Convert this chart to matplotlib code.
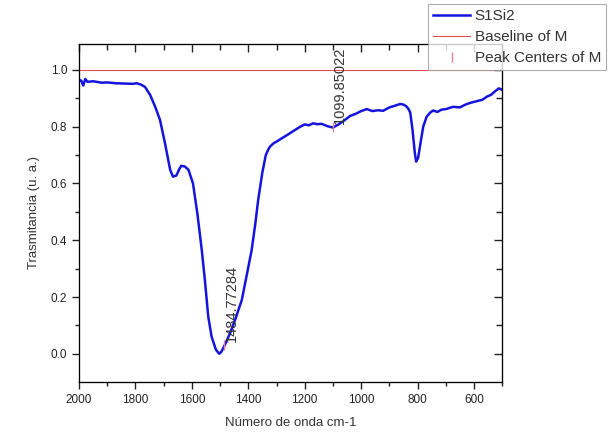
import matplotlib
matplotlib.use("Agg")
import matplotlib.pyplot as plt
from matplotlib.ticker import MultipleLocator, FormatStrFormatter

plt.rcParams['font.family'] = ['Liberation Sans', 'DejaVu Sans']

# espectro IR
wavenumber = [2000, 1992, 1985, 1978, 1970, 1950, 1920, 1900, 1870, 1840, 1810, 1795,
              1780, 1766, 1748, 1730, 1713, 1695, 1677, 1667, 1655, 1645, 1638, 1625,
              1612, 1596, 1580, 1565, 1553, 1542, 1530, 1515, 1503, 1495, 1484, 1464,
              1445, 1423, 1405, 1388, 1375, 1365, 1350, 1338, 1330, 1323, 1310, 1299,
              1280, 1260, 1240, 1216, 1200, 1185, 1170, 1157, 1140, 1120, 1100, 1080,
              1060, 1039, 1020, 1000, 980, 960, 940, 922, 900, 880, 862, 850, 840,
              832, 826, 818, 810, 805, 798, 790, 780, 768, 755, 745, 730, 715, 700,
              674, 650, 630, 613, 590, 570, 554, 540, 525, 512, 500]
transmittance = [0.965, 0.962, 0.945, 0.968, 0.958, 0.960, 0.955, 0.956, 0.953, 0.952, 0.951, 0.953,
                 0.948, 0.940, 0.912, 0.870, 0.824, 0.740, 0.648, 0.624, 0.628, 0.650, 0.662, 0.660,
                 0.648, 0.600, 0.490, 0.366, 0.250, 0.131, 0.060, 0.015, 0.000, 0.008, 0.030, 0.074,
                 0.125, 0.190, 0.280, 0.366, 0.460, 0.542, 0.640, 0.700, 0.718, 0.730, 0.742, 0.748,
                 0.760, 0.772, 0.785, 0.800, 0.808, 0.805, 0.812, 0.809, 0.810, 0.802, 0.797, 0.808,
                 0.822, 0.838, 0.845, 0.855, 0.862, 0.855, 0.858, 0.856, 0.868, 0.874, 0.880, 0.878,
                 0.872, 0.862, 0.850, 0.790, 0.710, 0.677, 0.690, 0.740, 0.800, 0.835, 0.850, 0.857,
                 0.852, 0.860, 0.862, 0.870, 0.868, 0.878, 0.884, 0.890, 0.895, 0.906, 0.912, 0.925,
                 0.935, 0.930]

baseline = 1.0
peak_centers = [1484.77284, 1099.85022]
peak_values = [0.03, 0.80]

fig = plt.figure(figsize=(6.08, 4.38), dpi=100)
ax = fig.add_axes([0.13, 0.128, 0.696, 0.772])

line, = ax.plot(wavenumber, transmittance, color='#1414dc', lw=1.8, label='S1Si2')
base = ax.axhline(baseline, color='#e05050', lw=0.8, label='Baseline of M')
pk, = ax.plot(peak_centers, peak_values, ls='none', marker='|', ms=7, mew=1,
              color='#e080a0', label='Peak Centers of M')

for xc, yc in zip(peak_centers, peak_values):
    ax.text(xc, yc + 0.01, f"{xc:.5f}", rotation=90, ha='left', va='bottom',
            fontsize=10.5, color='#333333', clip_on=False, zorder=5)

xlim = (2000, 500)
ylim = (-0.099, 1.092)
ax.set_xlim(*xlim)
ax.set_ylim(*ylim)
ax.xaxis.set_major_locator(MultipleLocator(200))
ax.xaxis.set_minor_locator(MultipleLocator(100))
ax.yaxis.set_major_locator(MultipleLocator(0.2))
ax.yaxis.set_minor_locator(MultipleLocator(0.1))
ax.yaxis.set_major_formatter(FormatStrFormatter('%.1f'))
ax.tick_params(which='both', direction='out', labelsize=8.5, colors='#222222', width=1)
ax.tick_params(which='major', length=5)
ax.tick_params(which='minor', length=3)

# ejes espejo con marcas hacia dentro
tx = ax.twiny()
tx.set_xlim(*xlim)
tx.xaxis.set_major_locator(MultipleLocator(200))
tx.xaxis.set_minor_locator(MultipleLocator(100))
tx.tick_params(which='both', direction='in', labeltop=False, colors='#222222', width=1)
tx.tick_params(which='major', length=6)
tx.tick_params(which='minor', length=4)
ty = ax.twinx()
ty.set_ylim(*ylim)
ty.yaxis.set_major_locator(MultipleLocator(0.2))
ty.yaxis.set_minor_locator(MultipleLocator(0.1))
ty.tick_params(which='both', direction='in', labelright=False, colors='#222222', width=1)
ty.tick_params(which='major', length=6)
ty.tick_params(which='minor', length=4)

ax.set_xlabel('Número de onda cm-1', fontsize=9.5, color='#333333', labelpad=8)
ax.set_ylabel('Trasmitancia (u. a.)', fontsize=9.5, color='#333333', labelpad=8)

leg = fig.legend(handles=[line, base, pk], loc='upper left',
                 bbox_to_anchor=(428 / 608, 1 - 4 / 438), frameon=True, fancybox=False,
                 edgecolor='#999999', fontsize=11, handlelength=2.4, borderaxespad=0,
                 labelspacing=0.45, handletextpad=0.3, borderpad=0.35)
leg.get_frame().set_linewidth(0.8)
for t in leg.get_texts():
    t.set_color('#333333')

fig.savefig('out.png', dpi=100)
